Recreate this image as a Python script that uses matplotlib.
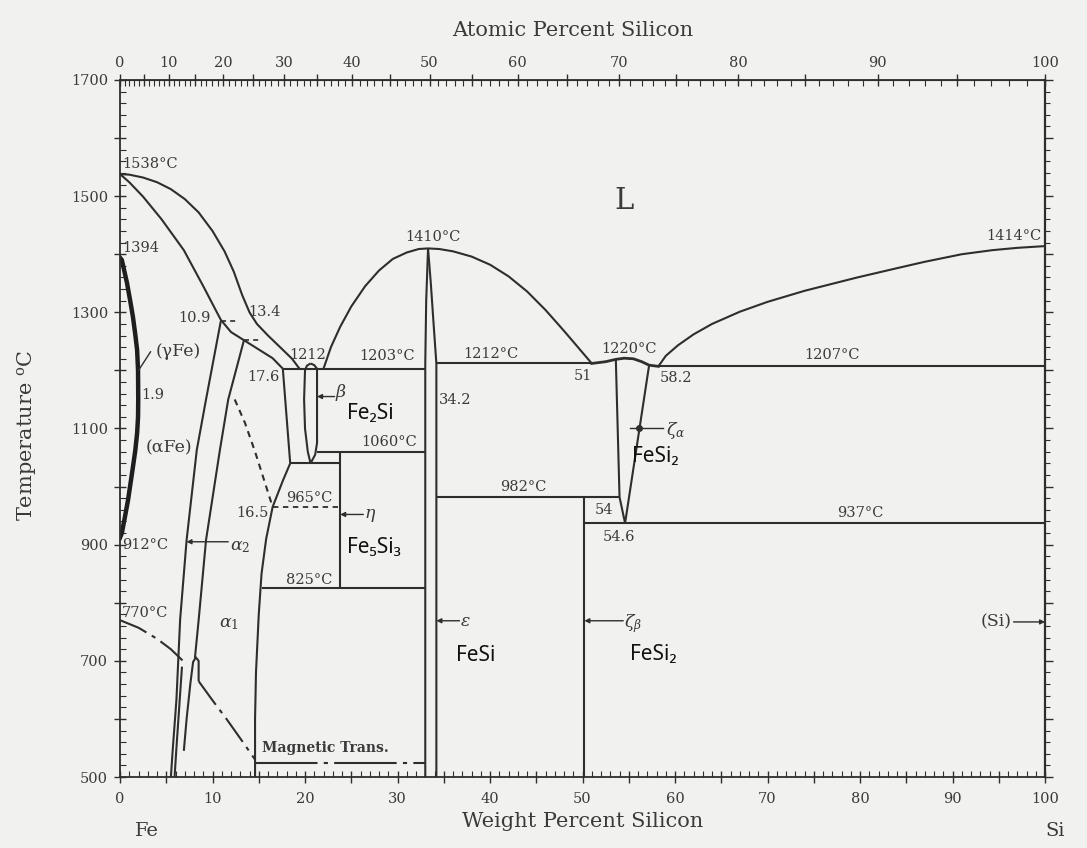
"""Fe-Si phase diagram redrawn from a scanned figure
"""
import numpy as np
import matplotlib.pyplot as plt
from matplotlib.ticker import FixedLocator, MultipleLocator

# --- phase boundaries, (weight % Si, temperature degC) ---
liq_fe_w = [0, 1, 2.5, 4, 5.5, 7, 8.5, 10, 11.3, 12.3, 13.2, 14.0, 14.8, 16, 17.5, 18.6, 19.4]
liq_fe_t = [1538, 1537, 1532, 1524, 1512, 1495, 1472, 1440, 1405, 1370, 1330, 1300, 1280,
            1260, 1237, 1220, 1203]
sol_fe_w = [0, 1, 2.5, 4.5, 6.9, 9.0, 10.9, 12.0, 13.4, 15.0, 16.5, 17.6]
sol_fe_t = [1538, 1524, 1499, 1460, 1407, 1345, 1287, 1266, 1252, 1236, 1221, 1203]

gamma_w = [0, 0.2, 0.75, 1.1, 1.4, 1.65, 1.85, 1.95, 1.97, 1.95, 1.85, 1.65, 1.4, 0.87, 0.5, 0.2, 0]
gamma_t = [1394, 1390, 1351, 1320, 1292, 1262, 1235, 1200, 1150, 1120, 1092, 1062, 1034,
           977, 945, 920, 912]

a2_left_w = [10.9, 9.3, 8.3, 7.2, 6.5, 6.1, 5.7, 5.5]
a2_left_t = [1285, 1150, 1063, 908, 771, 633, 547, 500]
a2_low_w = [6.7, 6.4, 6.1, 5.9]
a2_low_t = [690, 620, 550, 500]
a2_right_w = [13.4, 11.7, 10.8, 9.3, 8.5, 8.1]
a2_right_t = [1252, 1150, 1063, 908, 770, 705]
lens_w = [6.9, 7.2, 7.6, 7.9, 8.2, 8.5, 8.5]
lens_t = [545, 600, 660, 698, 706, 700, 665]

order_w = [12.4, 13.5, 14.6, 15.6, 16.5]
order_t = [1150, 1110, 1060, 1010, 965]
a1_w = [18.4, 17.6, 16.5, 15.8, 15.3, 15.0, 14.7, 14.6, 14.6]
a1_t = [1040, 1010, 965, 910, 850, 780, 680, 600, 500]

mag1_w = [0, 2, 4, 5.5, 6.8]
mag1_t = [770, 757, 738, 720, 700]
mag2_w = [8.5, 10, 11.6, 13.2, 14.6]
mag2_t = [665, 632, 598, 562, 530]
mag_flat_t = 525
mag_flat_w = [14.6, 33.0]

beta_left_w = [20.6, 20.2, 20.0, 19.9, 20.0, 20.3, 20.6]
beta_left_t = [1212, 1208, 1200, 1150, 1100, 1060, 1040]
beta_right_w = [20.6, 21.0, 21.3, 21.3, 21.1, 20.6]
beta_right_t = [1212, 1209, 1203, 1075, 1055, 1040]
box_left_w = [17.6, 18.4]
box_left_t = [1203, 1040]

dome_w = [22.0, 22.8, 23.8, 25.0, 26.5, 28.0, 29.5, 31.0, 32.3, 33.3,
          34.5, 36.0, 38.0, 40.0, 42.0, 44.0, 46.0, 48.0, 49.5, 51.0]
dome_t = [1203, 1240, 1275, 1310, 1345, 1372, 1392, 1403, 1409, 1410,
          1409, 1405, 1396, 1382, 1362, 1336, 1304, 1268, 1240, 1212]
eps_left_w = [33.3, 33.1, 33.0, 33.0]
eps_left_t = [1410, 1320, 1212, 500]
eps_right_w = [33.3, 33.6, 33.9, 34.2, 34.2]
eps_right_t = [1410, 1350, 1280, 1212, 500]

bump_w = [51.0, 52.5, 53.6, 54.5, 55.5, 56.4, 57.2, 58.2]
bump_t = [1212, 1215, 1219, 1221, 1220, 1215, 1209, 1207]
zeta_left_w = [53.6, 54.0, 54.6]
zeta_left_t = [1219, 982, 937]
zeta_right_w = [57.2, 54.6]
zeta_right_t = [1209, 937]
zeta_b_w = 50.2

liq_si_w = [58.2, 59.0, 60.3, 62.0, 64.0, 67.0, 70.0, 74.0, 79.7, 84.0, 87.0, 91.0, 94.3, 97.0, 100]
liq_si_t = [1207, 1225, 1243, 1262, 1280, 1301, 1318, 1337, 1360, 1376, 1387, 1400, 1407, 1411, 1414]

# isotherms: (temperature, from wt%, to wt%)
isotherms = [(1203, 17.6, 33.0), (1060, 21.3, 33.0), (1040, 18.4, 23.8),
             (825, 15.3, 33.0), (1212, 34.2, 51.0), (982, 34.2, 54.0),
             (937, 50.2, 100), (1207, 58.2, 100)]
eta_w = 23.8
eta_t = [1060, 825]

MW_SI, MW_FE = 28.086, 55.845


def wt2at(w):
    w = np.asarray(w, dtype=float)
    with np.errstate(divide='ignore', invalid='ignore'):
        a = w / MW_SI
        b = (100 - w) / MW_FE
        return 100 * a / (a + b)


def at2wt(x):
    x = np.asarray(x, dtype=float)
    with np.errstate(divide='ignore', invalid='ignore'):
        a = x * MW_SI
        b = (100 - x) * MW_FE
        return 100 * a / (a + b)


def every(step, offset=0):
    # label only every `step`, starting at `offset`
    return plt.FuncFormatter(lambda v, p: f'{v:.0f}' if round(v) % step == offset else '')


plt.rcParams['font.family'] = ['DejaVu Serif']
plt.rcParams['mathtext.fontset'] = 'dejavuserif'
LC = '#2e2e2e'
TC = '#3a3a3a'
BG = '#f1f1ef'
SANS = ['Noto Sans', 'DejaVu Sans']

fig = plt.figure(figsize=(10.87, 8.48), dpi=100, facecolor=BG)
ax = fig.add_axes([0.1104, 0.0837, 0.851, 0.822], facecolor=BG)
ax.set_xlim(0, 100)
ax.set_ylim(500, 1700)

lw = 1.5
line = dict(color=LC, lw=lw, solid_capstyle='butt', solid_joinstyle='round')
ax.plot(liq_fe_w, liq_fe_t, **line)
ax.plot(sol_fe_w, sol_fe_t, **line)
ax.plot(gamma_w, gamma_t, color='#1e1e1e', lw=3.2, solid_joinstyle='round')
ax.plot(a2_left_w, a2_left_t, **line)
ax.plot(a2_low_w, a2_low_t, **line)
ax.plot(a2_right_w, a2_right_t, **line)
ax.plot(lens_w, lens_t, **line)
ax.plot(order_w, order_t, color=LC, lw=lw, ls=(0, (3, 2.5)))
ax.plot([10.9, 12.6], [1285, 1285], color=LC, lw=1.2, ls=(0, (3, 2.5)))
ax.plot([13.4, 15.1], [1252, 1252], color=LC, lw=1.2, ls=(0, (3, 2.5)))
ax.plot(a1_w, a1_t, **line)
dashdot = (0, (14, 3, 2, 3))
ax.plot(mag1_w, mag1_t, color=LC, lw=lw, ls=dashdot)
ax.plot(mag2_w, mag2_t, color=LC, lw=lw, ls=dashdot)
ax.plot(mag_flat_w, [mag_flat_t] * 2, color=LC, lw=lw, ls=(0, (30, 3, 2, 3)))
ax.plot(beta_left_w, beta_left_t, **line)
ax.plot(beta_right_w, beta_right_t, **line)
ax.plot(box_left_w, box_left_t, **line)
ax.plot(dome_w, dome_t, **line)
ax.plot(eps_left_w, eps_left_t, **line)
ax.plot(eps_right_w, eps_right_t, **line)
ax.plot(bump_w, bump_t, color=LC, lw=2.0)
ax.plot(zeta_left_w, zeta_left_t, **line)
ax.plot(zeta_right_w, zeta_right_t, **line)
ax.plot([zeta_b_w, zeta_b_w], [982, 500], **line)
ax.plot(liq_si_w, liq_si_t, **line)
ax.plot([eta_w, eta_w], eta_t, **line)
for t, w0, w1 in isotherms:
    ax.plot([w0, w1], [t, t], **line)
ax.plot([16.5, eta_w], [965, 965], color=LC, lw=1.3, ls=(0, (3, 2.5)))

# --- numeric labels ---
num = dict(fontsize=10.5, color=TC, va='center')
for txt, w, t, ha in [('1538°C', 0.2, 1556, 'left'), ('1394', 0.2, 1410, 'left'),
                      ('912°C', 0.2, 900, 'left'), ('770°C', 0.2, 783, 'left'),
                      ('10.9', 9.8, 1290, 'right'), ('13.4', 13.9, 1300, 'left'),
                      ('17.6', 13.8, 1189, 'left'), ('1212', 20.3, 1226, 'center'),
                      ('1203°C', 28.9, 1224, 'center'), ('1060°C', 29.1, 1076, 'center'),
                      ('965°C', 20.5, 980, 'center'), ('16.5', 16.1, 955, 'right'),
                      ('825°C', 20.5, 840, 'center'), ('1410°C', 33.8, 1429, 'center'),
                      ('34.2', 36.2, 1149, 'center'), ('1212°C', 40.1, 1228, 'center'),
                      ('51', 50.0, 1191, 'center'), ('1220°C', 55.0, 1236, 'center'),
                      ('58.2', 60.1, 1187, 'center'), ('1207°C', 77.0, 1227, 'center'),
                      ('982°C', 43.6, 1000, 'center'), ('54', 52.3, 960, 'center'),
                      ('54.6', 53.9, 914, 'center'), ('937°C', 80.0, 954, 'center'),
                      ('1414°C', 99.6, 1431, 'right')]:
    ax.text(w, t, txt, ha=ha, **num)

ax.text(54.5, 1492, 'L', fontsize=21, color=TC, ha='center', va='center')

# --- phase labels and pointers ---
ph = dict(fontsize=12.5, color=TC, va='center')
ax.text(6.3, 1232, '(γFe)', ha='center', **ph)
ax.plot([3.3, 2.0], [1232, 1200], color=LC, lw=1)
ax.text(5.3, 1067, '(αFe)', ha='center', **ph)
ax.text(3.5, 1158, '1.9', ha='center', **num)
ax.text(11.8, 765, r'$\alpha_1$', ha='center', **ph)

arrow = dict(arrowstyle='-|>', color=LC, lw=1, mutation_scale=7, shrinkA=0, shrinkB=0)
t_a2 = 905
w_a2 = np.interp(t_a2, a2_left_t[::-1], a2_left_w[::-1])
ax.annotate('', xy=(w_a2, t_a2), xytext=(11.7, t_a2), arrowprops=arrow)
ax.text(11.9, t_a2 - 8, r'$\alpha_2$', ha='left', **ph)

ax.annotate('', xy=(21.3, 1155), xytext=(23.2, 1155), arrowprops=arrow)
ax.text(23.2, 1162, r'$\beta$', ha='left', **ph)
ax.annotate('', xy=(eta_w, 952), xytext=(26.3, 952), arrowprops=arrow)
ax.text(26.4, 950, r'$\eta$', ha='left', **ph)
ax.annotate('', xy=(34.2, 769), xytext=(36.7, 769), arrowprops=arrow)
ax.text(36.8, 767, r'$\varepsilon$', ha='left', **ph)
ax.annotate('', xy=(zeta_b_w, 769), xytext=(54.4, 769), arrowprops=arrow)
ax.text(54.5, 764, r'$\zeta_\beta$', ha='left', **ph)
ax.annotate('', xy=(100, 767), xytext=(96.6, 767), arrowprops=arrow)
ax.text(96.4, 767, '(Si)', ha='right', **ph)

t_za = 1100
w_za = np.interp(t_za, zeta_right_t[::-1], zeta_right_w[::-1])
ax.plot([w_za - 1.0, 58.7], [t_za, t_za], color=LC, lw=1)
ax.plot([w_za], [t_za], 'o', color=LC, ms=4)
ax.text(59.0, t_za - 4, r'$\zeta_\alpha$', ha='left', **ph)

sans = dict(fontsize=15, color='#111111', family=SANS, ha='left', va='center')
ax.text(24.5, 1126, 'Fe₂Si', **sans)
ax.text(24.5, 895, 'Fe₅Si₃', **sans)
ax.text(36.3, 709, 'FeSi', **sans)
ax.text(55.3, 1052, 'FeSi₂', **sans)
ax.text(55.1, 711, 'FeSi₂', **sans)

ax.text(15.4, 550, 'Magnetic Trans.', fontsize=10, fontweight='bold', color=TC,
        ha='left', va='center')

# --- axes, ticks ---
for s in ax.spines.values():
    s.set_color(LC)
    s.set_linewidth(1.3)

ax.xaxis.set_major_locator(MultipleLocator(5))
ax.xaxis.set_minor_locator(MultipleLocator(1))
ax.xaxis.set_major_formatter(every(10))
ax.yaxis.set_major_locator(MultipleLocator(100))
ax.yaxis.set_minor_locator(MultipleLocator(20))
ax.yaxis.set_major_formatter(every(200, 100))
ax.tick_params(which='major', direction='inout', length=9, width=1, color=LC,
               labelsize=10.5, labelcolor=TC, pad=6)
ax.tick_params(which='minor', direction='in', length=4, width=0.8, color=LC)
ax.tick_params(axis='y', pad=4)

secx = ax.secondary_xaxis('top', functions=(wt2at, at2wt))
secx.xaxis.set_major_locator(FixedLocator(range(0, 101, 5)))
secx.xaxis.set_minor_locator(FixedLocator(range(0, 101, 1)))
secx.xaxis.set_major_formatter(every(10))
secx.tick_params(which='major', direction='inout', length=9, width=1, color=LC,
                 labelsize=10.5, labelcolor=TC, pad=3)
secx.tick_params(which='minor', direction='in', length=4, width=0.8, color=LC)
secx.spines['top'].set_color(LC)

secy = ax.secondary_yaxis('right')
secy.yaxis.set_major_locator(MultipleLocator(100))
secy.yaxis.set_minor_locator(MultipleLocator(20))
secy.tick_params(which='major', direction='out', length=6, width=1, color=LC, labelright=False)
secy.tick_params(which='minor', direction='out', length=3.5, width=0.8, color=LC)
secy.spines['right'].set_color(LC)
secy.spines['right'].set_linewidth(1.6)

ax.set_xlabel('Weight Percent Silicon', fontsize=15, color=TC)
ax.xaxis.set_label_coords(0.5, -0.05)
ax.set_ylabel('Temperature $^{\\rm o}$C', fontsize=15, color=TC)
ax.yaxis.set_label_coords(-0.088, 0.49)
fig.text(573 / 1087, 1 - 30 / 848, 'Atomic Percent Silicon', fontsize=15, color=TC,
         ha='center', va='center')
ax.text(0.016, -0.077, 'Fe', transform=ax.transAxes, fontsize=14, color=TC,
        ha='left', va='center')
ax.text(1.0, -0.077, 'Si', transform=ax.transAxes, fontsize=14, color=TC,
        ha='left', va='center')

fig.savefig('out.png', dpi=100, facecolor=BG)
